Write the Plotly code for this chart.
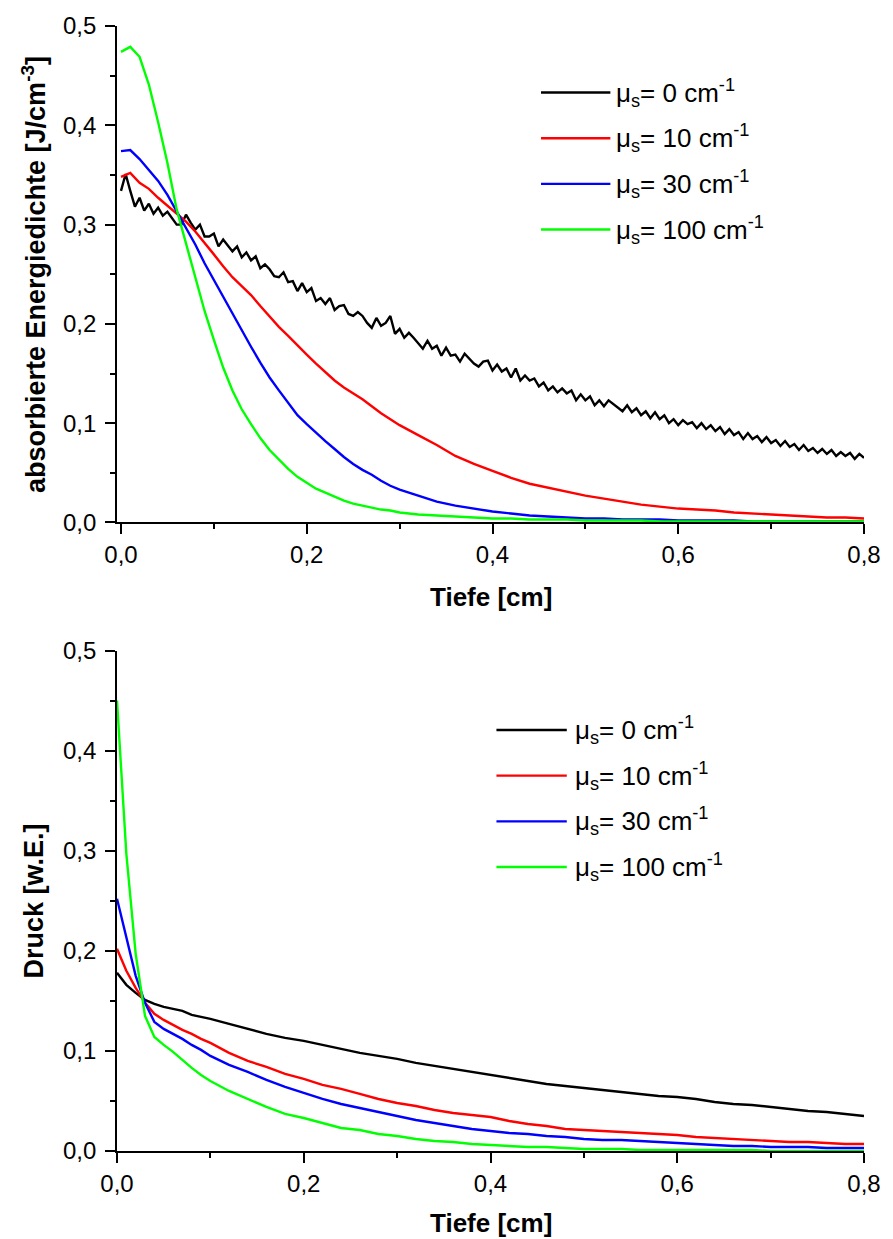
import plotly.graph_objects as go

# ---------------- data ----------------
# Top panel: absorbed energy density vs depth
TOP_DEPTH = [0.00, 0.01, 0.02, 0.03, 0.04, 0.05, 0.06, 0.07, 0.08, 0.09,
             0.10, 0.11, 0.12, 0.13, 0.14, 0.15, 0.16, 0.17, 0.18, 0.19,
             0.20, 0.21, 0.22, 0.23, 0.24, 0.25, 0.26, 0.27, 0.28, 0.29,
             0.30, 0.32, 0.34, 0.36, 0.38, 0.40, 0.42, 0.44, 0.46, 0.48,
             0.50, 0.52, 0.54, 0.56, 0.58, 0.60, 0.62, 0.64, 0.66, 0.68,
             0.70, 0.72, 0.74, 0.76, 0.78, 0.80]

TOP_DEPTH_FINE = [0.000, 0.005, 0.010, 0.015, 0.020, 0.025, 0.030, 0.035, 0.040, 0.045,
                  0.050, 0.055, 0.060, 0.065, 0.070, 0.075, 0.080, 0.085, 0.090, 0.095,
                  0.100, 0.105, 0.110, 0.115, 0.120, 0.125, 0.130, 0.135, 0.140, 0.145,
                  0.150, 0.155, 0.160, 0.165, 0.170, 0.175, 0.180, 0.185, 0.190, 0.195,
                  0.200, 0.205, 0.210, 0.215, 0.220, 0.225, 0.230, 0.235, 0.240, 0.245,
                  0.250, 0.255, 0.260, 0.265, 0.270, 0.275, 0.280, 0.285, 0.290, 0.295,
                  0.300, 0.305, 0.310, 0.315, 0.320, 0.325, 0.330, 0.335, 0.340, 0.345,
                  0.350, 0.355, 0.360, 0.365, 0.370, 0.375, 0.380, 0.385, 0.390, 0.395,
                  0.400, 0.405, 0.410, 0.415, 0.420, 0.425, 0.430, 0.435, 0.440, 0.445,
                  0.450, 0.455, 0.460, 0.465, 0.470, 0.475, 0.480, 0.485, 0.490, 0.495,
                  0.500, 0.505, 0.510, 0.515, 0.520, 0.525, 0.530, 0.535, 0.540, 0.545,
                  0.550, 0.555, 0.560, 0.565, 0.570, 0.575, 0.580, 0.585, 0.590, 0.595,
                  0.600, 0.605, 0.610, 0.615, 0.620, 0.625, 0.630, 0.635, 0.640, 0.645,
                  0.650, 0.655, 0.660, 0.665, 0.670, 0.675, 0.680, 0.685, 0.690, 0.695,
                  0.700, 0.705, 0.710, 0.715, 0.720, 0.725, 0.730, 0.735, 0.740, 0.745,
                  0.750, 0.755, 0.760, 0.765, 0.770, 0.775, 0.780, 0.785, 0.790, 0.795,
                  0.800]

E_MU0 = [0.334, 0.351, 0.334, 0.318, 0.327, 0.314, 0.321, 0.311, 0.317, 0.309,
         0.313, 0.307, 0.300, 0.300, 0.310, 0.302, 0.295, 0.300, 0.288, 0.288,
         0.291, 0.278, 0.285, 0.279, 0.273, 0.278, 0.267, 0.272, 0.264, 0.268,
         0.256, 0.260, 0.255, 0.248, 0.247, 0.252, 0.242, 0.243, 0.233, 0.241,
         0.232, 0.236, 0.223, 0.226, 0.220, 0.226, 0.214, 0.218, 0.219, 0.210,
         0.208, 0.212, 0.208, 0.201, 0.196, 0.206, 0.198, 0.201, 0.208, 0.190,
         0.195, 0.186, 0.191, 0.186, 0.180, 0.175, 0.183, 0.175, 0.178, 0.168,
         0.176, 0.168, 0.169, 0.162, 0.170, 0.165, 0.160, 0.157, 0.162, 0.163,
         0.153, 0.159, 0.152, 0.155, 0.146, 0.155, 0.143, 0.148, 0.143, 0.145,
         0.137, 0.141, 0.133, 0.137, 0.131, 0.135, 0.130, 0.133, 0.123, 0.129,
         0.123, 0.127, 0.118, 0.123, 0.117, 0.123, 0.119, 0.115, 0.112, 0.118,
         0.111, 0.115, 0.108, 0.112, 0.105, 0.111, 0.104, 0.108, 0.100, 0.104,
         0.098, 0.103, 0.099, 0.101, 0.095, 0.100, 0.094, 0.098, 0.092, 0.096,
         0.089, 0.094, 0.088, 0.091, 0.084, 0.090, 0.084, 0.087, 0.081, 0.086,
         0.080, 0.083, 0.077, 0.082, 0.076, 0.079, 0.073, 0.078, 0.072, 0.075,
         0.070, 0.074, 0.069, 0.073, 0.067, 0.071, 0.067, 0.070, 0.064, 0.069,
         0.065]

E_MU10 = [0.348, 0.352, 0.342, 0.336, 0.327, 0.319, 0.311, 0.303, 0.293, 0.282,
          0.270, 0.258, 0.247, 0.238, 0.229, 0.218, 0.207, 0.197, 0.188, 0.178,
          0.169, 0.160, 0.151, 0.143, 0.136, 0.130, 0.124, 0.117, 0.110, 0.104,
          0.098, 0.088, 0.078, 0.067, 0.059, 0.052, 0.045, 0.039, 0.035, 0.031,
          0.027, 0.024, 0.021, 0.018, 0.016, 0.014, 0.013, 0.012, 0.010, 0.009,
          0.008, 0.007, 0.006, 0.005, 0.005, 0.004]

E_MU30 = [0.374, 0.375, 0.366, 0.355, 0.344, 0.330, 0.313, 0.297, 0.280, 0.261,
          0.244, 0.228, 0.211, 0.194, 0.177, 0.161, 0.146, 0.133, 0.120, 0.108,
          0.099, 0.090, 0.082, 0.074, 0.066, 0.059, 0.053, 0.048, 0.042, 0.037,
          0.033, 0.027, 0.021, 0.017, 0.014, 0.011, 0.009, 0.007, 0.006, 0.005,
          0.004, 0.004, 0.003, 0.003, 0.003, 0.002, 0.002, 0.002, 0.002, 0.001,
          0.001, 0.001, 0.001, 0.001, 0.001, 0.001]

E_MU100 = [0.474, 0.479, 0.469, 0.441, 0.403, 0.362, 0.315, 0.281, 0.246, 0.213,
           0.184, 0.156, 0.133, 0.114, 0.099, 0.085, 0.073, 0.063, 0.054, 0.046,
           0.040, 0.034, 0.030, 0.026, 0.022, 0.019, 0.017, 0.015, 0.013, 0.012,
           0.010, 0.008, 0.007, 0.006, 0.005, 0.004, 0.004, 0.003, 0.003, 0.003,
           0.002, 0.002, 0.002, 0.002, 0.001, 0.001, 0.001, 0.001, 0.001, 0.001,
           0.001, 0.001, 0.001, 0.001, 0.001, 0.001]

# Bottom panel: pressure vs depth
BOTTOM_DEPTH = [0.00, 0.01, 0.02, 0.03, 0.04, 0.05, 0.06, 0.07, 0.08, 0.09, 0.10,
                0.12, 0.14, 0.16, 0.18, 0.20, 0.22, 0.24, 0.26, 0.28, 0.30,
                0.32, 0.34, 0.36, 0.38, 0.40, 0.42, 0.44, 0.46, 0.48, 0.50,
                0.52, 0.54, 0.56, 0.58, 0.60, 0.62, 0.64, 0.66, 0.68, 0.70,
                0.72, 0.74, 0.76, 0.78, 0.80]

P_MU0 = [0.178, 0.166, 0.158, 0.151, 0.147, 0.144, 0.142, 0.140, 0.136, 0.134, 0.132,
         0.127, 0.122, 0.117, 0.113, 0.110, 0.106, 0.102, 0.098, 0.095, 0.092,
         0.088, 0.085, 0.082, 0.079, 0.076, 0.073, 0.070, 0.067, 0.065, 0.063,
         0.061, 0.059, 0.057, 0.055, 0.054, 0.052, 0.049, 0.047, 0.046, 0.044,
         0.042, 0.040, 0.039, 0.037, 0.035]

P_MU10 = [0.202, 0.180, 0.163, 0.148, 0.137, 0.131, 0.126, 0.121, 0.117, 0.112, 0.108,
          0.098, 0.090, 0.084, 0.077, 0.072, 0.066, 0.062, 0.057, 0.052, 0.048,
          0.045, 0.041, 0.038, 0.036, 0.034, 0.030, 0.027, 0.025, 0.022, 0.021,
          0.020, 0.019, 0.018, 0.017, 0.016, 0.014, 0.013, 0.012, 0.011, 0.010,
          0.009, 0.009, 0.008, 0.007, 0.007]

P_MU30 = [0.252, 0.212, 0.175, 0.148, 0.129, 0.122, 0.117, 0.112, 0.106, 0.101, 0.095,
          0.086, 0.079, 0.071, 0.064, 0.058, 0.052, 0.047, 0.043, 0.039, 0.035,
          0.031, 0.028, 0.025, 0.022, 0.020, 0.018, 0.017, 0.015, 0.014, 0.012,
          0.011, 0.011, 0.010, 0.009, 0.008, 0.007, 0.006, 0.005, 0.005, 0.004,
          0.004, 0.004, 0.003, 0.003, 0.003]

P_MU100 = [0.450, 0.297, 0.197, 0.135, 0.114, 0.106, 0.099, 0.091, 0.083, 0.076, 0.070,
           0.060, 0.052, 0.044, 0.037, 0.033, 0.028, 0.023, 0.021, 0.017, 0.015,
           0.012, 0.010, 0.009, 0.007, 0.006, 0.005, 0.004, 0.004, 0.003, 0.002,
           0.002, 0.002, 0.001, 0.001, 0.001, 0.001, 0.001, 0.001, 0.001, 0.000,
           0.000, 0.000, 0.000, 0.000, 0.000]

SERIES_LABELS = ["μ<sub>s</sub>= 0 cm<sup>-1</sup>",
                 "μ<sub>s</sub>= 10 cm<sup>-1</sup>",
                 "μ<sub>s</sub>= 30 cm<sup>-1</sup>",
                 "μ<sub>s</sub>= 100 cm<sup>-1</sup>"]
SERIES_COLORS = ["#000000", "#ff0000", "#0000ff", "#00ff00"]

X_TICK_VALUES = [0.0, 0.2, 0.4, 0.6, 0.8]
X_TICK_LABELS = ["0,0", "0,2", "0,4", "0,6", "0,8"]
Y_TICK_VALUES = [0.0, 0.1, 0.2, 0.3, 0.4, 0.5]
Y_TICK_LABELS = ["0,0", "0,1", "0,2", "0,3", "0,4", "0,5"]

X_TITLE = "Tiefe [cm]"
Y_TITLE_TOP = "absorbierte Energiedichte [J/cm<sup>-3</sup>]"
Y_TITLE_BOTTOM = "Druck [w.E.]"

# ---------------- layout geometry (pixels) ----------------
W, H = 893, 1239
ML, MR, MT, MB = 117, 22, 18, 88
PW, PH = W - ML - MR, H - MT - MB
TOP_PLOT_BOTTOM_PX = 518
BOTTOM_PLOT_TOP_PX = 647


def px_x(px):
    return (px - ML) / PW


def px_y(py):
    return (H - MB - py) / PH


FONT = "Liberation Sans, Arial, sans-serif"
TICK_SIZE = 24
LEGEND_SIZE = 26

fig = go.Figure()

top_series = [(TOP_DEPTH_FINE, E_MU0), (TOP_DEPTH, E_MU10),
              (TOP_DEPTH, E_MU30), (TOP_DEPTH, E_MU100)]
bottom_series = [P_MU0, P_MU10, P_MU30, P_MU100]

for (xs, ys), color, label in zip(top_series, SERIES_COLORS, SERIES_LABELS):
    fig.add_trace(go.Scatter(x=xs, y=ys, mode="lines", name=label,
                             line=dict(color=color, width=2.4),
                             xaxis="x", yaxis="y", showlegend=False))
for ys, color, label in zip(bottom_series, SERIES_COLORS, SERIES_LABELS):
    fig.add_trace(go.Scatter(x=BOTTOM_DEPTH, y=ys, mode="lines", name=label,
                             line=dict(color=color, width=2.4),
                             xaxis="x2", yaxis="y2", showlegend=False))


def main_x(anchor, rng, show_labels=True, ticks="outside", side="bottom", overlaying=None):
    d = dict(anchor=anchor, range=rng, side=side,
             tickmode="array", tickvals=X_TICK_VALUES, ticktext=X_TICK_LABELS,
             showticklabels=show_labels, ticks=ticks, ticklen=10, tickwidth=1.8,
             tickcolor="black",
             minor=dict(tickmode="linear", tick0=0, dtick=0.1, ticks=ticks,
                        ticklen=5, tickwidth=1.8, tickcolor="black", showgrid=False),
             showline=True, linewidth=1.8, linecolor="black",
             showgrid=False, zeroline=False, fixedrange=True,
             tickfont=dict(family=FONT, size=TICK_SIZE, color="black"))
    if overlaying:
        d["overlaying"] = overlaying
    else:
        d["domain"] = [0, 1]
    return d


def main_y(anchor, domain, show_labels=True, ticks="outside", side="left", overlaying=None):
    d = dict(anchor=anchor, range=[0, 0.5], side=side,
             tickmode="array", tickvals=Y_TICK_VALUES, ticktext=Y_TICK_LABELS,
             showticklabels=show_labels, ticks=ticks, ticklen=10, tickwidth=1.8,
             tickcolor="black", ticklabelstandoff=4,
             minor=dict(tickmode="linear", tick0=0, dtick=0.05, ticks=ticks,
                        ticklen=5, tickwidth=1.8, tickcolor="black", showgrid=False),
             showline=True, linewidth=1.8, linecolor="black",
             showgrid=False, zeroline=False, fixedrange=True,
             tickfont=dict(family=FONT, size=TICK_SIZE, color="black"))
    if overlaying:
        d["overlaying"] = overlaying
    else:
        d["domain"] = domain
    return d


top_domain = [px_y(TOP_PLOT_BOTTOM_PX), 1.0]
bottom_domain = [0.0, px_y(BOTTOM_PLOT_TOP_PX)]
top_xrange = [-0.0043, 0.8]
bottom_xrange = [0.0, 0.8]

fig.update_layout(
    width=W, height=H,
    margin=dict(l=ML, r=MR, t=MT, b=MB, pad=0),
    paper_bgcolor="white", plot_bgcolor="white",
    showlegend=False,
    font=dict(family=FONT, size=TICK_SIZE, color="black"),
    xaxis=main_x("y", top_xrange),
    yaxis=main_y("x", top_domain),
    xaxis2=main_x("y2", bottom_xrange),
    yaxis2=main_y("x2", bottom_domain),
    xaxis3=main_x("y", top_xrange, show_labels=False, ticks="inside", side="top", overlaying="x"),
    yaxis3=main_y("x", top_domain, show_labels=False, ticks="inside", side="right", overlaying="y"),
    xaxis4=main_x("y2", bottom_xrange, show_labels=False, ticks="inside", side="top", overlaying="x2"),
    yaxis4=main_y("x2", bottom_domain, show_labels=False, ticks="inside", side="right", overlaying="y2"),
)

annotations = []
X_TITLE_FONT = dict(family=FONT, size=26, color="black", weight="bold")
Y_TITLE_FONT = dict(family=FONT, size=27, color="black", weight="bold")
# axis titles
annotations.append(dict(text=X_TITLE, xref="paper", yref="paper", x=px_x(494), y=px_y(593),
                        xanchor="center", yanchor="middle", showarrow=False, font=X_TITLE_FONT))
annotations.append(dict(text=X_TITLE, xref="paper", yref="paper", x=px_x(494), y=px_y(1224),
                        xanchor="center", yanchor="middle", showarrow=False, font=X_TITLE_FONT))
annotations.append(dict(text=Y_TITLE_TOP, xref="paper", yref="paper", x=px_x(33), y=px_y(268),
                        xanchor="center", yanchor="middle", textangle=-90, showarrow=False,
                        font=Y_TITLE_FONT))
annotations.append(dict(text=Y_TITLE_BOTTOM, xref="paper", yref="paper", x=px_x(33), y=px_y(899),
                        xanchor="center", yanchor="middle", textangle=-90, showarrow=False,
                        font=Y_TITLE_FONT))

# legends (drawn as line samples + labels)
shapes = []
LEGENDS = [
    dict(x0=545, x1=615, xt=619, rows=[85, 131, 177, 223]),
    dict(x0=500, x1=571, xt=577, rows=[727, 773, 819, 865]),
]
for lg in LEGENDS:
    for row_py, color, label in zip(lg["rows"], SERIES_COLORS, SERIES_LABELS):
        shapes.append(dict(type="line", xref="paper", yref="paper",
                           x0=px_x(lg["x0"]), x1=px_x(lg["x1"]),
                           y0=px_y(row_py), y1=px_y(row_py),
                           line=dict(color=color, width=2.4)))
        annotations.append(dict(text=label, xref="paper", yref="paper",
                                x=px_x(lg["xt"]), y=px_y(row_py),
                                xanchor="left", yanchor="middle", showarrow=False,
                                font=dict(family=FONT, size=LEGEND_SIZE, color="black")))

fig.update_layout(annotations=annotations, shapes=shapes)

fig.write_html("out.html", config={"displayModeBar": False},
               post_script="document.body.style.margin='0';")
